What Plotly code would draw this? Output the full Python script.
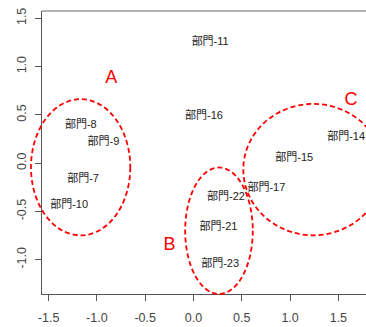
import plotly.graph_objects as go

# ---- data ----
labels = ["部門-7", "部門-8", "部門-9", "部門-10", "部門-11", "部門-14",
          "部門-15", "部門-16", "部門-17", "部門-21", "部門-22", "部門-23"]
xs = [-1.143, -1.166, -0.932, -1.287, 0.173, 1.58,
      1.043, 0.109, 0.755, 0.259, 0.336, 0.276]
ys = [-0.165, 0.396, 0.213, -0.431, 1.251, 0.265,
      0.052, 0.489, -0.259, -0.662, -0.352, -1.044]

group_names = ["A", "B", "C"]
group_label_x = [-0.851, -0.248, 1.631]
group_label_y = [0.872, -0.85, 0.649]
ell_cx = [-1.168, 0.264, 1.24]
ell_cy = [-0.043, -0.70, -0.067]
ell_rx = [0.514, 0.35, 0.724]
ell_ry = [0.705, 0.655, 0.68]

x_ticks = [-1.5, -1.0, -0.5, 0.0, 0.5, 1.0, 1.5]
y_ticks = [-1.0, -0.5, 0.0, 0.5, 1.0, 1.5]

XMIN, XMAX = -1.568, 1.786
YMIN, YMAX = -1.355, 1.575


def fx(v):
    return (v - XMIN) / (XMAX - XMIN)


def fy(v):
    return (v - YMIN) / (YMAX - YMIN)


fig = go.Figure()
fig.add_trace(go.Scatter(
    x=xs, y=ys, mode="text", text=labels, textposition="middle center",
    textfont=dict(family="Liberation Sans, Noto Sans CJK JP", size=11, color="#222"),
    cliponaxis=False, showlegend=False, hoverinfo="skip"))

fig.add_trace(go.Scatter(
    x=group_label_x, y=group_label_y, mode="text", text=group_names,
    textposition="middle center",
    textfont=dict(family="Liberation Sans, Arial", size=18, color="#ff0000"),
    cliponaxis=False, showlegend=False, hoverinfo="skip"))

shapes = []
for cx, cy, rx, ry in zip(ell_cx, ell_cy, ell_rx, ell_ry):
    shapes.append(dict(
        type="circle", xref="x domain", yref="y domain",
        x0=fx(cx - rx), x1=fx(cx + rx), y0=fy(cy - ry), y1=fy(cy + ry),
        line=dict(color="#ff0000", width=1.8, dash="5px,3px")))
# top border
shapes.append(dict(type="line", xref="x domain", yref="y domain",
                   x0=0, x1=1, y0=1, y1=1,
                   line=dict(color="#999", width=1.5)))

tickfont = dict(family="Liberation Sans, Arial", size=12.5, color="#444")
fig.update_layout(
    width=366, height=327,
    margin=dict(l=41.7, r=0, t=11, b=32.7),
    paper_bgcolor="white", plot_bgcolor="white",
    shapes=shapes,
    xaxis=dict(range=[XMIN, XMAX], tickvals=x_ticks,
               ticktext=[f"{v:.1f}" for v in x_ticks],
               showgrid=False, zeroline=False, showline=True,
               linecolor="#555", linewidth=1, ticks="outside", ticklen=6,
               tickcolor="#555", tickfont=tickfont, ticklabelstandoff=6),
    yaxis=dict(range=[YMIN, YMAX], tickvals=y_ticks,
               ticktext=[f"{v:.1f}" for v in y_ticks],
               showgrid=False, zeroline=False, showline=True,
               linecolor="#555", linewidth=1, ticks="outside", ticklen=6,
               tickcolor="#555", tickfont=tickfont, tickangle=-90,
               ticklabelstandoff=4),
)

fig.write_html("out.html")
